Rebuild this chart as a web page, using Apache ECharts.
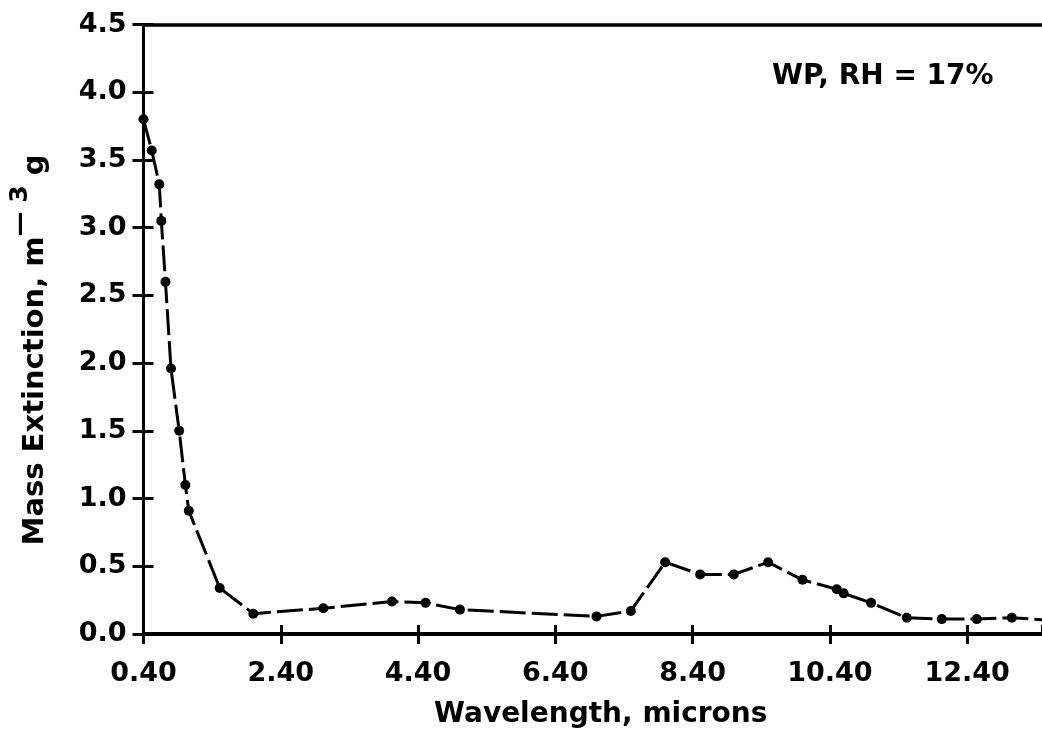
<!DOCTYPE html>
<html>
<head>
<meta charset="utf-8">
<script src="https://cdn.jsdelivr.net/npm/echarts@6/dist/echarts.min.js"></script>
<style>
html,body{margin:0;padding:0;background:#fff;}
#chart{width:1042px;height:734px;}
</style>
</head>
<body>
<div id="chart"></div>
<script>
// Wavelength (microns)
const wavelength = [0.40, 0.52, 0.63, 0.66, 0.72, 0.80, 0.92, 1.01, 1.06, 1.51, 2.00, 3.02, 4.02, 4.51, 5.01, 7.00, 7.50, 8.00, 8.51, 9.00, 9.50, 10.00, 10.50, 10.60, 11.00, 11.52, 12.03, 12.54, 13.05, 14.00];
// Mass extinction values
const extinction = [3.80, 3.57, 3.32, 3.05, 2.60, 1.96, 1.50, 1.10, 0.91, 0.34, 0.15, 0.19, 0.24, 0.23, 0.18, 0.13, 0.17, 0.53, 0.44, 0.44, 0.53, 0.40, 0.33, 0.30, 0.23, 0.12, 0.11, 0.11, 0.12, 0.09];
const xTickStart = 0.40, xTickStep = 2, xMax = 13.49;
const yMin = 0, yMax = 4.5, yStep = 0.5;
const annotation = 'WP, RH = 17%';
const xTitle = 'Wavelength, microns';
const yTitleMain = 'Mass Extinction, m';
const yTitleSup = '— 3';
const yTitleEnd = ' g';

const FONT = 'DejaVu Sans';
const data = wavelength.map((x, i) => [x, extinction[i]]);

const chart = echarts.init(document.getElementById('chart'), null, {renderer: 'canvas'});
chart.setOption({
  animation: false,
  backgroundColor: '#fff',
  textStyle: {fontFamily: FONT},
  title: {
    text: annotation, left: 767, top: 58,
    textStyle: {fontFamily: FONT, fontSize: 28, fontWeight: 'bold', color: '#000'}
  },
  graphic: [{
    type: 'text', x: 29, y: 350, rotation: Math.PI / 2,
    style: {
      text: '{a|' + yTitleMain + '}{s|' + yTitleSup + '}{g|' + yTitleEnd + '}',
      align: 'center', verticalAlign: 'middle',
      fontFamily: FONT, fontSize: 29, fontWeight: 'bold', fill: '#000', lineHeight: 46,
      rich: {
        a: {fontFamily: FONT, fontSize: 29, fontWeight: 'bold', fill: '#000', lineHeight: 30, verticalAlign: 'bottom'},
        s: {fontFamily: FONT, fontSize: 25, fontWeight: 'bold', fill: '#000', lineHeight: 24, verticalAlign: 'top'},
        g: {fontFamily: FONT, fontSize: 29, fontWeight: 'bold', fill: '#000', lineHeight: 42, verticalAlign: 'bottom'}
      }
    }
  }],
  grid: {left: 143.5, right: 0, top: 24.5, bottom: 96.7, containLabel: false},
  xAxis: [{
    type: 'value', min: xTickStart, max: xMax, interval: xTickStep, position: 'bottom',
    name: xTitle, nameLocation: 'middle', nameGap: 67,
    nameTextStyle: {fontFamily: FONT, fontSize: 28, fontWeight: 'bold', color: '#000', padding: [0, 0, 0, 16]},
    axisLine: {show: true, onZero: false, lineStyle: {color: '#000', width: 4}},
    axisTick: {show: true, inside: false, length: 10, lineStyle: {color: '#000', width: 3}},
    axisLabel: {show: true, margin: 26, showMaxLabel: false, color: '#000', fontFamily: FONT, fontSize: 27, fontWeight: 'bold',
      formatter: v => v.toFixed(2)},
    splitLine: {show: false}
  }, {
    type: 'value', min: xTickStart, max: xMax, interval: xTickStep, position: 'bottom',
    axisLine: {show: false}, axisLabel: {show: false}, splitLine: {show: false},
    axisTick: {show: true, inside: true, length: 9, lineStyle: {color: '#000', width: 3}}
  }, {
    type: 'value', min: xTickStart, max: xMax, position: 'top',
    axisLine: {show: true, onZero: false, lineStyle: {color: '#000', width: 3.5}},
    axisLabel: {show: false}, axisTick: {show: false}, splitLine: {show: false}
  }],
  yAxis: [{
    type: 'value', min: yMin, max: yMax, interval: yStep, position: 'left',
    axisLine: {show: true, onZero: false, lineStyle: {color: '#000', width: 3}},
    axisTick: {show: true, inside: false, length: 11, lineStyle: {color: '#000', width: 3}},
    axisLabel: {show: true, margin: 17, color: '#000', fontFamily: FONT, fontSize: 27, fontWeight: 'bold',
      formatter: v => v.toFixed(1)},
    splitLine: {show: false}
  }, {
    type: 'value', min: yMin, max: yMax, interval: yStep, position: 'left',
    axisLine: {show: false}, axisLabel: {show: false}, splitLine: {show: false},
    axisTick: {show: true, inside: true, length: 10, lineStyle: {color: '#000', width: 3}}
  }],
  series: [{
    type: 'line', xAxisIndex: 0, yAxisIndex: 0, data: data, clip: true,
    symbol: 'circle', symbolSize: 10,
    itemStyle: {color: '#000'},
    lineStyle: {color: '#000', width: 3, type: [26, 6]}
  }]
});
</script>
</body>
</html>
